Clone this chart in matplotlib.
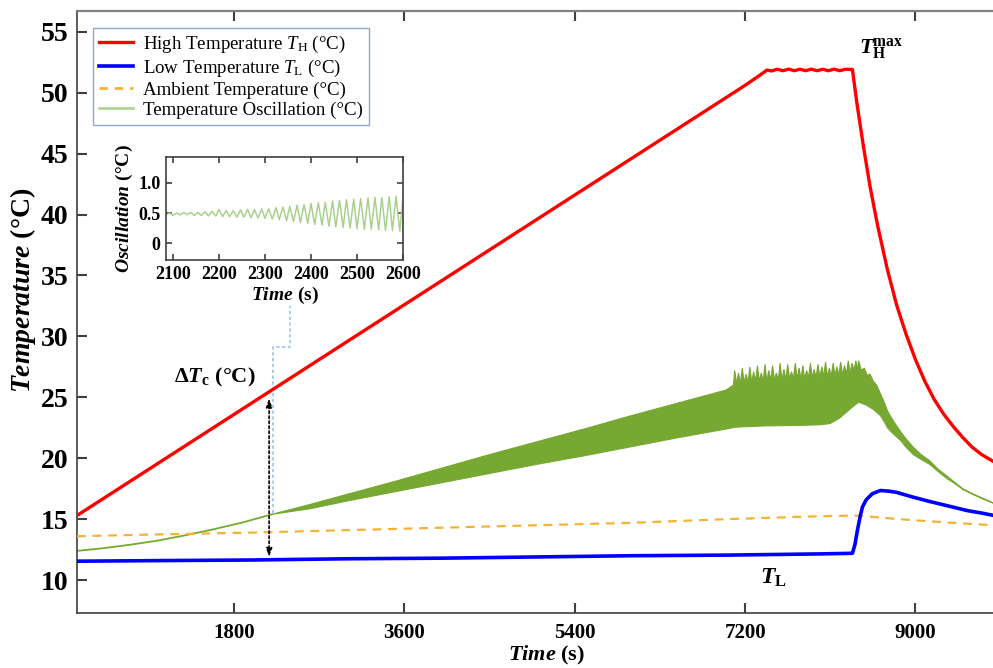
import numpy as np
import matplotlib
matplotlib.use('Agg')
import matplotlib.pyplot as plt
from matplotlib.lines import Line2D

plt.rcParams['font.family'] = ['Liberation Serif', 'DejaVu Serif']
plt.rcParams['mathtext.fontset'] = 'custom'
plt.rcParams['mathtext.rm'] = 'Liberation Serif'
plt.rcParams['mathtext.it'] = 'Liberation Serif:italic'
plt.rcParams['mathtext.bf'] = 'Liberation Serif:bold'
plt.rcParams['mathtext.bfit'] = 'Liberation Serif:italic:bold'

# ---------------- data ----------------
# High temperature T_H
th_t = [140, 1000, 2000, 3000, 4000, 5000, 6000, 7000, 7200, 7350, 7430,
        7480, 7540, 7600, 7660, 7720, 7780, 7840, 7900, 7960, 8020, 8080,
        8140, 8200, 8260, 8334, 8380, 8450, 8520, 8600, 8700, 8800, 8900,
        9000, 9100, 9200, 9300, 9400, 9500, 9600, 9700, 9830]
th_T = [15.3, 19.6, 24.6, 29.6, 34.6, 39.6, 44.6, 49.6, 50.6, 51.4, 51.85,
        51.78, 51.92, 51.8, 51.93, 51.8, 51.92, 51.8, 51.93, 51.8, 51.92, 51.8,
        51.93, 51.8, 51.92, 51.9, 49.2, 45.6, 42.3, 39.1, 35.6, 32.6, 30.2,
        28.1, 26.3, 24.8, 23.6, 22.6, 21.7, 20.9, 20.3, 19.7]

# Low temperature T_L
tl_t = [140, 1000, 2000, 3000, 4000, 5000, 6000, 7000, 8000, 8334, 8360,
        8387, 8415, 8440, 8480, 8546, 8630, 8720, 8800, 8979, 9150, 9338,
        9550, 9700, 9830]
tl_T = [11.55, 11.6, 11.65, 11.75, 11.8, 11.9, 12.0, 12.05, 12.15, 12.2, 12.9,
        14.1, 15.2, 16.0, 16.6, 17.1, 17.35, 17.3, 17.2, 16.8, 16.45, 16.1,
        15.7, 15.5, 15.3]

# Ambient temperature
amb_t = [140, 1000, 2000, 3000, 4000, 5000, 6000, 7000, 7800, 8350, 8600, 9000, 9400, 9830]
amb_T = [13.6, 13.75, 13.9, 14.1, 14.3, 14.5, 14.7, 15.0, 15.2, 15.3, 15.15, 14.9, 14.7, 14.5]

# Temperature oscillation: single line before the band
osc_t = [140, 400, 700, 1000, 1300, 1600, 1900, 2200]
osc_T = [12.4, 12.6, 12.9, 13.25, 13.7, 14.2, 14.75, 15.4]

# Temperature oscillation band: upper envelope
band_up_t = [2200, 2600, 3000, 3500, 4000, 4500, 5000, 5500, 6000, 6500, 7000, 7077,
             7090, 7110, 7130, 7150, 7170, 7190, 7210, 7230, 7250, 7270, 7290, 7310,
             7330, 7350, 7370, 7390, 7410, 7430, 7450, 7470, 7490, 7510, 7530, 7550,
             7570, 7590, 7610, 7630, 7650, 7670, 7690, 7710, 7730, 7750, 7770, 7790,
             7810, 7830, 7850, 7870, 7890, 7910, 7930, 7950, 7970, 7990, 8010, 8030,
             8050, 8070, 8090, 8110, 8130, 8150, 8170, 8190, 8210, 8230, 8250, 8270,
             8290, 8310, 8330, 8350, 8370, 8390, 8400, 8430, 8460, 8490, 8520, 8556,
             8590, 8630, 8670, 8704, 8740, 8780, 8850, 8900, 8978, 9060, 9150, 9240,
             9338, 9420, 9500, 9600, 9687, 9760, 9830]
band_up_T = [15.4, 16.2, 17.05, 18.1, 19.2, 20.3, 21.35, 22.4, 23.5, 24.55, 25.6, 26.0,
             27.2, 26.1, 27.0, 26.1, 27.4, 26.2, 26.9, 26.2, 27.5, 26.2, 27.1, 26.3,
             27.6, 26.3, 27.0, 26.3, 27.7, 26.3, 27.2, 26.4, 27.6, 26.4, 27.0, 26.4,
             27.8, 26.4, 27.3, 26.4, 27.7, 26.5, 27.1, 26.5, 27.8, 26.5, 27.4, 26.5,
             27.6, 26.5, 27.2, 26.6, 27.8, 26.6, 27.3, 26.6, 27.7, 26.6, 27.5, 26.7,
             27.9, 26.7, 27.4, 26.7, 27.8, 26.8, 27.5, 26.8, 27.9, 26.8, 27.6, 26.9,
             28.0, 27.0, 27.8, 27.2, 28.0, 27.3, 28.0, 27.2, 27.4, 26.8, 26.9, 26.3,
             26.0, 25.3, 24.6, 23.9, 23.4, 22.9, 22.1, 21.6, 20.9, 20.3, 19.8, 19.1,
             18.5, 18.0, 17.5, 17.1, 16.8, 16.55, 16.3]

# Temperature oscillation band: lower envelope
band_lo_t = [2200, 2600, 3000, 3500, 4000, 4500, 5000, 5500, 6000, 6500, 7000, 7100,
             7400, 7800, 8000, 8100, 8200, 8334, 8400, 8470, 8556, 8630, 8670, 8704,
             8740, 8780, 8850, 8900, 8978, 9060, 9150, 9240, 9338, 9420, 9500, 9600,
             9687, 9760, 9830]
band_lo_T = [15.4, 15.85, 16.5, 17.25, 18.0, 18.75, 19.5, 20.2, 20.95, 21.7, 22.4, 22.55,
             22.65, 22.7, 22.75, 22.85, 23.3, 24.2, 24.6, 24.4, 24.0, 23.5, 23.0, 22.5,
             22.2, 21.9, 21.4, 20.9, 20.3, 19.9, 19.5, 18.9, 18.3, 17.9, 17.45, 17.05,
             16.75, 16.5, 16.3]

# Inset: oscillation extrema between 2085 s and 2600 s
ins_t = [2085, 2093, 2100, 2108, 2116, 2124, 2131, 2139, 2147, 2154, 2162, 2170,
         2177, 2185, 2193, 2200, 2208, 2216, 2223, 2231, 2239, 2247, 2254, 2262,
         2270, 2277, 2285, 2293, 2300, 2308, 2316, 2324, 2331, 2339, 2347, 2354,
         2362, 2370, 2377, 2385, 2393, 2400, 2408, 2416, 2424, 2431, 2439, 2447,
         2454, 2462, 2470, 2477, 2485, 2493, 2500, 2508, 2516, 2524, 2531, 2539,
         2547, 2554, 2562, 2570, 2577, 2585, 2593, 2600]
ins_v = [0.47, 0.50, 0.46, 0.50, 0.47, 0.51, 0.47, 0.51, 0.46, 0.51, 0.46, 0.52,
         0.45, 0.53, 0.45, 0.56, 0.44, 0.54, 0.44, 0.54, 0.43, 0.55, 0.43, 0.56,
         0.42, 0.56, 0.42, 0.57, 0.41, 0.57, 0.40, 0.59, 0.39, 0.60, 0.37, 0.61,
         0.36, 0.63, 0.34, 0.64, 0.33, 0.66, 0.31, 0.67, 0.30, 0.68, 0.28, 0.70,
         0.27, 0.71, 0.26, 0.72, 0.25, 0.73, 0.24, 0.74, 0.23, 0.75, 0.23, 0.76,
         0.22, 0.76, 0.21, 0.77, 0.21, 0.78, 0.20, 0.75]

x_ticks = [1800, 3600, 5400, 7200, 9000]
y_ticks = [10, 15, 20, 25, 30, 35, 40, 45, 50, 55]
ins_x_ticks = [2100, 2200, 2300, 2400, 2500, 2600]
ins_y_ticks = [0, 0.5, 1.0]
ins_y_labels = ['0', '0.5', '1.0']

# annotation anchor points (data coordinates)
dt_x = 2170
dt_top, dt_bot = 24.9, 11.9
conn_x = [2212, 2212, 2392, 2392]
conn_y = [15.5, 29.1, 29.1, 32.5]

# ---------------- colours ----------------
RED = '#ff0000'
BLUE = '#0000ff'
ORANGE = '#f5b335'
GREEN_BAND = '#76a832'
GREEN_LIGHT = '#a9d18e'
SPINE = '#404040'

fig = plt.figure(figsize=(9.93, 6.68), dpi=100)
ax = fig.add_axes([77/993, 55/668, 917/993, 602/668])

# band + oscillation line
band_x = np.concatenate([band_up_t, band_lo_t[::-1]])
band_y = np.concatenate([band_up_T, band_lo_T[::-1]])
ax.fill(band_x, band_y, color=GREEN_BAND, lw=0.8, ec=GREEN_BAND, zorder=2)
ax.plot(osc_t, osc_T, color=GREEN_BAND, lw=1.3, zorder=2)

ax.plot(amb_t, amb_T, color=ORANGE, lw=1.6, ls=(0, (4, 3)), zorder=3)
ax.plot(th_t, th_T, color=RED, lw=2.4, zorder=4)
ax.plot(tl_t, tl_T, color=BLUE, lw=2.6, zorder=4)

ax.set_xlim(140, 9830)
ax.set_ylim(7.3, 56.7)
ax.set_xticks(x_ticks)
ax.set_yticks(y_ticks)
ax.tick_params(direction='in', top=True, right=False, length=7, width=1.5, color=SPINE)
ax.tick_params(axis='x', labelsize=15, pad=7)
ax.tick_params(axis='y', labelsize=20, pad=6)
for lab in ax.get_xticklabels() + ax.get_yticklabels():
    lab.set_fontweight('bold')
ax.spines['right'].set_visible(False)
for s in ['left', 'bottom']:
    ax.spines[s].set_color(SPINE)
    ax.spines[s].set_linewidth(1.2)
ax.spines['top'].set_color('#808080')
ax.spines['top'].set_linewidth(1.6)

ax.set_xlabel(r'$\mathbfit{Time}$ (s)', fontsize=16, fontweight='bold')
ax.xaxis.label.set_va('center')
ax.xaxis.set_label_coords((547 - 77) / 917, -0.071)
ax.set_ylabel(r'$\mathbfit{Temperature}$ (°C)', fontsize=20, fontweight='bold', labelpad=2)
ax.yaxis.label.set_y((613 - 290) / 602)

# legend
handles = [
    Line2D([], [], color=RED, lw=2.4),
    Line2D([], [], color=BLUE, lw=2.6),
    Line2D([], [], color=ORANGE, lw=2.0, ls=(0, (3, 2.5))),
    Line2D([], [], color=GREEN_LIGHT, lw=1.8),
]
labels = [
    r'High Temperature $T_\mathrm{H}$ (°C)',
    r'Low Temperature $T_\mathrm{L}$ (°C)',
    'Ambient Temperature (°C)',
    'Temperature Oscillation (°C)',
]
leg = ax.legend(handles, labels, loc='upper left', bbox_to_anchor=(0.0175, 0.972),
                borderaxespad=0, fancybox=False, frameon=True, fontsize=13.6,
                handlelength=1.8, handletextpad=0.55, labelspacing=0.15,
                borderpad=0.3)
leg.get_frame().set_edgecolor('#7391c4')
leg.get_frame().set_linewidth(1.0)

# annotations
ax.annotate('', xy=(dt_x, dt_bot), xytext=(dt_x, dt_top),
            arrowprops=dict(arrowstyle='<|-|>,head_length=0.5,head_width=0.18',
                            color='black', lw=1.2, ls=(0, (1.5, 1.5)),
                            shrinkA=0, shrinkB=0), zorder=5)
ax.plot(conn_x, conn_y, color='#9dc3e6', lw=1.2, ls=(0, (2, 1.5)), zorder=1,
        clip_on=False)
ax.text(1600, 26.6, r'$\mathbf{\Delta}\mathbfit{T}_\mathbf{c}$ (°C)', fontsize=16,
        fontweight='bold', ha='center', va='center')
ax.text(8400, 53.6, r'$\mathbfit{T}_\mathbf{H}^\mathbf{max}$', fontsize=16,
        ha='left', va='center')
ax.text(7500, 10.2, r'$\mathbfit{T}_\mathbf{L}$', fontsize=17, ha='center', va='center')

# inset
axi = fig.add_axes([166/993, (668-260)/668, 237/993, 103/668])
axi.plot(ins_t, ins_v, color=GREEN_LIGHT, lw=1.1)
axi.set_xlim(2085, 2600)
axi.set_ylim(-0.28, 1.43)
axi.set_xticks(ins_x_ticks)
axi.set_yticks(ins_y_ticks)
axi.set_yticklabels(ins_y_labels)
axi.tick_params(direction='in', top=True, right=True, length=4, width=1.2,
                labelsize=13, pad=4, color=SPINE)
for lab in axi.get_xticklabels() + axi.get_yticklabels():
    lab.set_fontweight('bold')
for s in axi.spines.values():
    s.set_color(SPINE)
    s.set_linewidth(1.2)
axi.set_xlabel(r'$\mathbfit{Time}$ (s)', fontsize=14, fontweight='bold', labelpad=2)
axi.set_ylabel(r'$\mathbfit{Oscillation}$ (°C)', fontsize=14, fontweight='bold', labelpad=2)

fig.savefig('out.png', dpi=100)
